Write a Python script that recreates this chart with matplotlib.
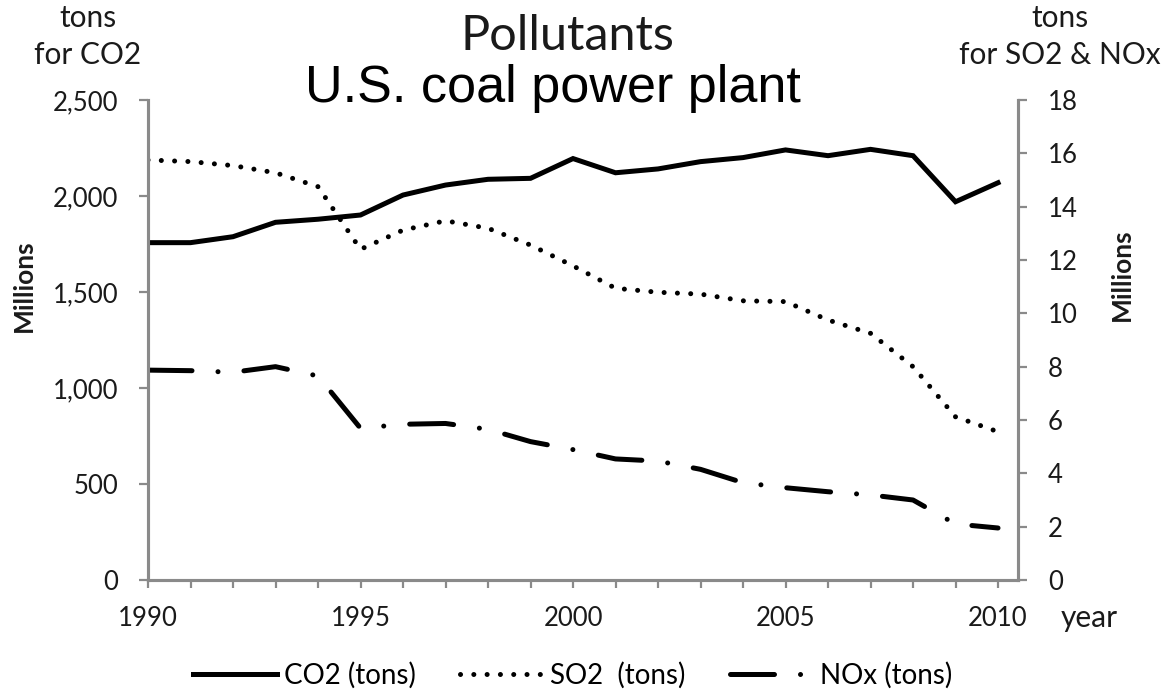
import numpy as np
import matplotlib.pyplot as plt

years = list(range(1990, 2011))
# CO2 in millions of tons (left axis)
co2 = [1757, 1757, 1788, 1863, 1879, 1901, 2005, 2057, 2087, 2092, 2195,
       2121, 2141, 2179, 2200, 2240, 2210, 2243, 2210, 1970, 2069]
# SO2 and NOx in millions of tons (right axis)
so2 = [15.75, 15.69, 15.54, 15.27, 14.75, 12.40, 13.12, 13.47, 13.19, 12.56, 11.78,
       10.94, 10.79, 10.72, 10.47, 10.44, 9.75, 9.25, 8.00, 6.12, 5.56]
nox = [7.87, 7.85, 7.79, 8.00, 7.65, 5.69, 5.84, 5.87, 5.65, 5.19, 4.89,
       4.54, 4.46, 4.15, 3.65, 3.46, 3.31, 3.19, 3.00, 2.10, 1.95]
year_ticks = [1990, 1995, 2000, 2005, 2010]

FONT = 'Lato'
TXT = '#1a1a1a'
AXIS = '#8a8a8a'
W, H = 1169, 700

plt.rcParams['font.family'] = FONT


def fx(px):
    return px / W


def fy(py):
    return 1 - py / H


fig, ax = plt.subplots(figsize=(11.69, 7), dpi=100)
fig.subplots_adjust(left=fx(148), right=fx(1018), bottom=fy(580), top=fy(100))
ax2 = ax.twinx()

lw = 3.6
l1, = ax.plot(years, co2, color='black', lw=lw, solid_joinstyle='miter',
              label='CO2 (tons)')
l2, = ax2.plot(years, so2, color='black', lw=lw, linestyle=(0, (0.01, 2.65)),
               dash_capstyle='round', label='SO2  (tons)')
l3, = ax2.plot(years, nox, color='black', lw=lw,
               linestyle=(0, (8.8, 5.2, 0.01, 5.2)),
               dash_capstyle='round', label='NOx (tons)')

ax.set_xlim(1990, 2010.47)
ax.set_ylim(0, 2500)
ax2.set_ylim(0, 18)

ax.set_xticks(year_ticks)
ax.set_xticks(years, minor=True)
ax.set_yticks(range(0, 2501, 500))
ax.yaxis.set_major_formatter(plt.FuncFormatter(lambda v, p: f'{int(v):,}'))
ax2.set_yticks(range(0, 19, 2))

for a in (ax, ax2):
    a.spines['top'].set_visible(False)
    for s in ('left', 'right', 'bottom'):
        a.spines[s].set_color(AXIS)
        a.spines[s].set_linewidth(2.2)
    a.tick_params(which='both', direction='out', length=6.5, width=1.6,
                  color=AXIS, labelsize=18.5, labelcolor=TXT, pad=15)
ax.tick_params(axis='x', which='both', length=6, pad=13)

# axis unit labels
fig.text(fx(24), fy(286), 'Millions', rotation=90, ha='center', va='center',
         fontsize=19, fontweight='bold', color=TXT)
fig.text(fx(1122), fy(275), 'Millions', rotation=90, ha='center', va='center',
         fontsize=19, fontweight='bold', color=TXT)

for x, lines in ((88, ('tons', 'for CO2')), (1060, ('tons', 'for SO2 & NOx'))):
    fig.text(fx(x), fy(27), lines[0], ha='center', va='baseline', fontsize=21.5, color=TXT)
    fig.text(fx(x), fy(64), lines[1], ha='center', va='baseline', fontsize=21.5, color=TXT)
fig.text(fx(1089), fy(627), 'year', ha='center', va='baseline', fontsize=21.5, color=TXT)

fig.text(fx(567), fy(36), 'Pollutants', ha='center', va='center',
         fontsize=35, color=TXT)
fig.text(fx(553), fy(102), 'U.S. coal power plant', ha='center', va='baseline',
         fontsize=37.5, color='black', family='Liberation Sans')

fig.legend(handles=[l1, l2, l3], loc='center', bbox_to_anchor=(fx(573), fy(675)),
           ncol=3, frameon=False, fontsize=20, handlelength=3.0, columnspacing=1.6,
           handletextpad=0.25)

plt.savefig('out.png', dpi=100)
